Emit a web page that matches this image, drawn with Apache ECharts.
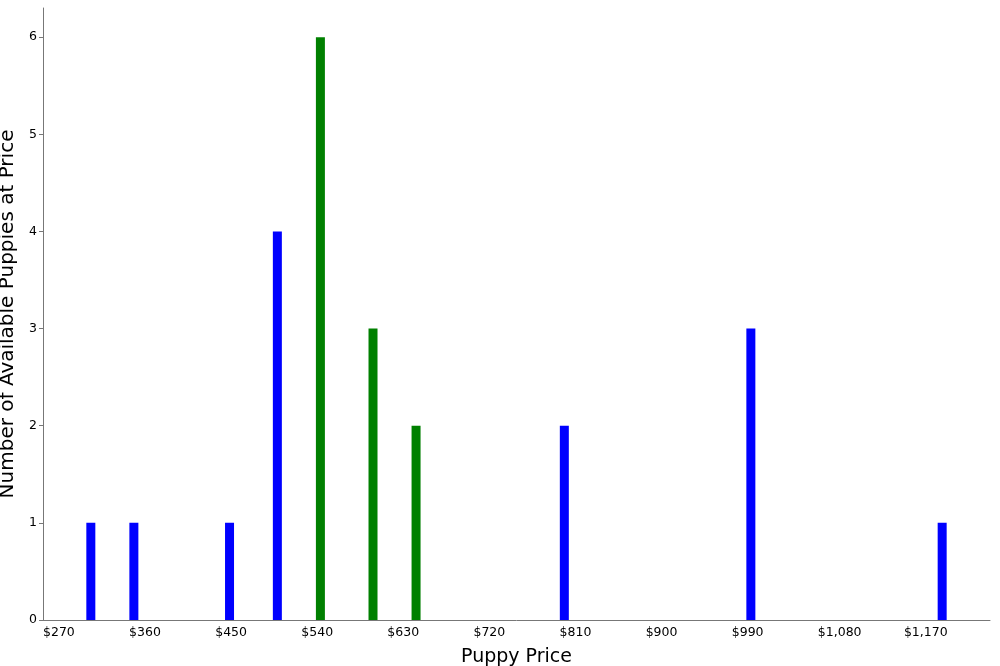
<!DOCTYPE html><html><head><meta charset="utf-8">
<script src="https://cdn.jsdelivr.net/npm/echarts@6/dist/echarts.min.js"></script>
<style>body{margin:0}#c{width:1000px;height:666px}</style></head><body><div id="c"></div>
<script>
const bluePrices=[320,365,465,515,815,1010,1210];
const blueCounts=[1,1,1,4,2,3,1];
const greenPrices=[560,615,660];
const greenCounts=[6,3,2];
const font='DejaVu Sans';
const ch=echarts.init(document.getElementById('c'));
ch.setOption({
 animation:false,
 grid:{left:43,right:10,top:8,bottom:46,containLabel:false,outerBoundsMode:'none'},
 xAxis:{type:'value',min:270,max:1260,interval:90,
  name:'Puppy Price',nameLocation:'middle',nameGap:28,nameTextStyle:{fontFamily:font,fontSize:19,color:'#000'},
  axisLine:{lineStyle:{color:'#777'}},axisTick:{show:false},splitLine:{show:false},
  axisLabel:{showMaxLabel:false,align:'left',margin:6,fontFamily:font,fontSize:12.5,color:'#000',
   formatter:v=>'$'+v.toLocaleString('en-US')}},
 yAxis:{type:'value',min:0,max:6.3,interval:1,
  name:'Number of Available Puppies at Price',nameLocation:'middle',nameGap:22,nameTextStyle:{fontFamily:font,fontSize:20,color:'#000'},
  axisLine:{show:true,lineStyle:{color:'#777'}},axisTick:{show:true,length:4,lineStyle:{color:'#777'}},splitLine:{show:false},
  axisLabel:{showMaxLabel:false,margin:6,fontFamily:font,fontSize:12.5,color:'#000'}},
 series:[
  {type:'bar',barWidth:9,itemStyle:{color:'#0000ff'},data:bluePrices.map((p,i)=>[p,blueCounts[i]])},
  {type:'bar',barWidth:9,barGap:'-100%',itemStyle:{color:'#008000'},data:greenPrices.map((p,i)=>[p,greenCounts[i]])}
 ]
});
</script></body></html>
